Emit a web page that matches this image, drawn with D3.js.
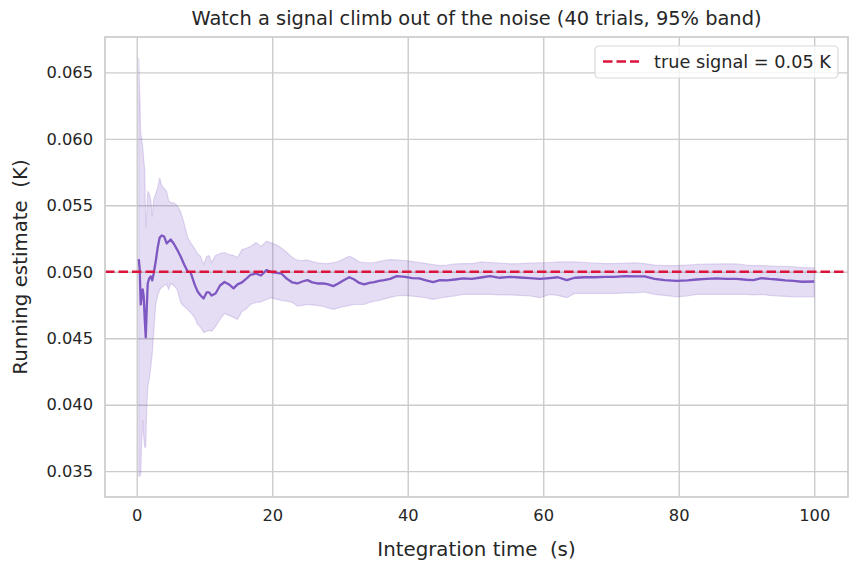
<!DOCTYPE html>
<html>
<head>
<meta charset="utf-8">
<script src="https://cdn.jsdelivr.net/npm/d3@7"></script>
<style>
  body { margin: 0; background: #fff; }
  svg { display: block; font-family: "DejaVu Sans", sans-serif; }
  text { white-space: pre; }
</style>
</head>
<body>
<svg id="chart" width="860" height="572"></svg>
<script>
// integration time (s)
const times = [0.3, 0.44, 0.59, 0.74, 0.88, 1.03, 1.18, 1.33, 1.47, 1.62,
  1.84, 2.06, 2.28, 2.5, 2.8, 3.09, 3.39, 3.68, 4.05, 4.42,
  4.71, 5.01, 5.45, 5.96, 6.48, 7.0, 7.51, 7.95, 8.54, 8.98,
  9.43, 9.87, 10.31, 10.68, 11.05, 11.63, 12.3, 12.96, 13.62, 14.29,
  14.87, 15.54, 16.05, 16.79, 17.6, 18.34, 19.15, 19.88, 20.69, 21.35,
  22.17, 22.97, 23.71, 24.45, 25.18, 25.92, 26.66, 27.54, 28.28, 29.01,
  29.75, 30.49, 31.37, 32.11, 32.84, 33.58, 34.32, 35.05, 35.79, 36.52,
  37.41, 38.37, 39.62, 40.65, 41.68, 42.71, 43.74, 44.77, 45.8, 46.98,
  48.16, 49.48, 50.81, 52.14, 53.61, 55.08, 56.55, 58.03, 59.5, 60.97,
  62.15, 63.48, 64.65, 66.13, 67.6, 69.07, 70.54, 72.16, 73.64, 74.96,
  76.44, 77.91, 79.68, 81.3, 82.62, 84.09, 85.57, 87.04, 88.51, 89.99,
  91.02, 92.2, 93.37, 94.55, 95.73, 96.91, 98.23, 100];

// mean running estimate over trials (K)
const meanEst = [0.05096, 0.05017, 0.04754, 0.04822, 0.04867, 0.04815, 0.04642, 0.04507, 0.04717, 0.04912,
  0.0495, 0.04965, 0.04935, 0.04987, 0.05077, 0.05182, 0.05258, 0.05273, 0.05265, 0.05213,
  0.05228, 0.05243, 0.05213, 0.05167, 0.05115, 0.05055, 0.05002, 0.04995, 0.04905, 0.04852,
  0.04822, 0.04799, 0.04845, 0.04845, 0.04822, 0.04837, 0.04897, 0.04923, 0.04905, 0.04875,
  0.04905, 0.0492, 0.04942, 0.04976, 0.04987, 0.04972, 0.05012, 0.04998, 0.04992, 0.04987,
  0.04947, 0.0492, 0.04912, 0.04927, 0.04937, 0.0492, 0.04912, 0.04912, 0.04905, 0.04892,
  0.04912, 0.04935, 0.04959, 0.04942, 0.04916, 0.04905, 0.04916, 0.04922, 0.04931, 0.04937,
  0.04947, 0.04967, 0.04962, 0.04953, 0.0495, 0.04935, 0.04922, 0.04937, 0.04935, 0.04942,
  0.0495, 0.04947, 0.04957, 0.04967, 0.04955, 0.04962, 0.04957, 0.04953, 0.04947, 0.04953,
  0.04959, 0.04937, 0.04955, 0.04959, 0.04959, 0.04962, 0.04962, 0.04967, 0.04965, 0.04965,
  0.04947, 0.04938, 0.04931, 0.04935, 0.04942, 0.04946, 0.0495, 0.04947, 0.04947, 0.0494,
  0.04937, 0.04952, 0.04946, 0.04942, 0.04935, 0.04932, 0.04925, 0.04927];

// 95% band, lower edge
const bandLo = [0.03463, 0.03463, 0.03478, 0.03741, 0.03883, 0.03756, 0.0368, 0.0368, 0.03966, 0.04131,
  0.04191, 0.04281, 0.04379, 0.04544, 0.04754, 0.04822, 0.04867, 0.04882, 0.04897, 0.04905,
  0.04867, 0.04912, 0.04897, 0.04867, 0.04769, 0.04739, 0.04717, 0.04694, 0.04657, 0.04604,
  0.04582, 0.04544, 0.04552, 0.04559, 0.04552, 0.04589, 0.04642, 0.04687, 0.04672, 0.04657,
  0.04642, 0.04702, 0.04717, 0.04754, 0.04769, 0.04773, 0.04792, 0.04805, 0.04792, 0.04784,
  0.04779, 0.04769, 0.04742, 0.04747, 0.04754, 0.04751, 0.04747, 0.04739, 0.04728, 0.04717,
  0.04728, 0.04737, 0.04747, 0.04754, 0.04754, 0.04754, 0.04769, 0.04779, 0.04784, 0.04796,
  0.04807, 0.04818, 0.04822, 0.04817, 0.04811, 0.04803, 0.04792, 0.04803, 0.04811, 0.04818,
  0.0483, 0.0483, 0.0483, 0.0483, 0.04826, 0.04826, 0.04822, 0.04818, 0.04805, 0.0483,
  0.04822, 0.04805, 0.04837, 0.04837, 0.04837, 0.04837, 0.04837, 0.04841, 0.04842, 0.04847,
  0.0483, 0.04822, 0.04812, 0.04818, 0.0483, 0.0483, 0.0483, 0.0483, 0.0483, 0.0483,
  0.04826, 0.0483, 0.04822, 0.04818, 0.04815, 0.04812, 0.04812, 0.04812];

// 95% band, upper edge
const bandHi = [0.06609, 0.06332, 0.06046, 0.05994, 0.05941, 0.05843, 0.05768, 0.05333, 0.0543, 0.05603,
  0.05588, 0.05543, 0.05415, 0.05543, 0.05588, 0.05633, 0.05708, 0.05648, 0.05626, 0.05603,
  0.05535, 0.0552, 0.0552, 0.05498, 0.05453, 0.05363, 0.05258, 0.0522, 0.05175, 0.05137,
  0.05115, 0.05055, 0.05115, 0.05122, 0.0507, 0.05122, 0.05137, 0.05145, 0.0513, 0.05122,
  0.05107, 0.05167, 0.05175, 0.0519, 0.0522, 0.0519, 0.0523, 0.05216, 0.05201, 0.05179,
  0.05145, 0.05107, 0.05087, 0.05085, 0.05087, 0.05077, 0.05068, 0.05062, 0.05062, 0.0507,
  0.05077, 0.05096, 0.05117, 0.051, 0.05074, 0.0507, 0.05068, 0.0507, 0.05077, 0.05085,
  0.05092, 0.05089, 0.05085, 0.05077, 0.0507, 0.05062, 0.05055, 0.05047, 0.05051, 0.05059,
  0.05062, 0.05062, 0.05074, 0.0507, 0.05066, 0.0506, 0.05062, 0.05066, 0.05068, 0.0507,
  0.05074, 0.05075, 0.05074, 0.0507, 0.05066, 0.05062, 0.05062, 0.05066, 0.05068, 0.05062,
  0.05051, 0.05047, 0.05047, 0.05051, 0.05055, 0.05057, 0.05059, 0.0506, 0.05059, 0.05051,
  0.05047, 0.05047, 0.05044, 0.0504, 0.0504, 0.05038, 0.05032, 0.0503];

const trueSignal = 0.05;
const xTicks = [0, 20, 40, 60, 80, 100];
const yTicks = [0.035, 0.040, 0.045, 0.050, 0.055, 0.060, 0.065];

const purple = "#7e57c2";
const red = "#dc143c";
const gridCol = "#cccccc";
const textCol = "#262626";

let svg = d3.select("#chart");
let pLeft = 105, pRight = 848, pTop = 37, pBottom = 497;

// matplotlib-ish 5% margins
let tExt = d3.extent(times);
let tPad = (tExt[1] - tExt[0]) * 0.05;
let vMin = d3.min(bandLo), vMax = d3.max(bandHi);
let vPad = (vMax - vMin) * 0.05;

let x = d3.scaleLinear()
          .domain([tExt[0] - tPad, tExt[1] + tPad])
          .range([pLeft, pRight]);
let y = d3.scaleLinear()
          .domain([vMin - vPad, vMax + vPad])
          .range([pBottom, pTop]);

let rows = times.map((t, i) => ({t: t, m: meanEst[i], lo: bandLo[i], hi: bandHi[i]}));

// grid
svg.append("g")
   .attr("transform", `translate(0,${pBottom})`)
   .call(d3.axisBottom(x).tickValues(xTicks).tickSize(-(pBottom - pTop)).tickFormat(d3.format("d")).tickPadding(9))
   .call(g => g.select(".domain").remove())
   .call(g => g.selectAll("line").attr("stroke", gridCol).attr("stroke-width", 1.4))
   .call(g => g.selectAll("text").attr("fill", textCol).style("font-size", "16.3px")
                .attr("font-family", "DejaVu Sans").attr("dy", "0.95em"));

svg.append("g")
   .attr("transform", `translate(${pLeft},0)`)
   .call(d3.axisLeft(y).tickValues(yTicks).tickSize(-(pRight - pLeft)).tickFormat(d3.format(".3f")).tickPadding(12))
   .call(g => g.select(".domain").remove())
   .call(g => g.selectAll("line").attr("stroke", gridCol).attr("stroke-width", 1.4))
   .call(g => g.selectAll("text").attr("fill", textCol).style("font-size", "16.3px")
                .attr("font-family", "DejaVu Sans"));

// band
let area = d3.area()
             .x(d => x(d.t))
             .y0(d => y(d.lo))
             .y1(d => y(d.hi));

svg.append("path")
   .datum(rows)
   .attr("d", area)
   .attr("fill", purple)
   .attr("fill-opacity", 0.2)
   .attr("stroke", purple)
   .attr("stroke-opacity", 0.2)
   .attr("stroke-width", 1.2);

// mean line
let line = d3.line()
             .x(d => x(d.t))
             .y(d => y(d.m));

svg.append("path")
   .datum(rows)
   .attr("d", line)
   .attr("fill", "none")
   .attr("stroke", purple)
   .attr("stroke-width", 2.3)
   .attr("stroke-linejoin", "round");

// true signal
svg.append("line")
   .attr("x1", pLeft)
   .attr("x2", pRight)
   .attr("y1", y(trueSignal))
   .attr("y2", y(trueSignal))
   .attr("stroke", red)
   .attr("stroke-width", 2.4)
   .attr("stroke-dasharray", "9.5,4");

// spines
svg.append("rect")
   .attr("x", pLeft)
   .attr("y", pTop)
   .attr("width", pRight - pLeft)
   .attr("height", pBottom - pTop)
   .attr("fill", "none")
   .attr("stroke", gridCol)
   .attr("stroke-width", 1.7);

// legend
let lg = svg.append("g").attr("transform", "translate(595,46)");
lg.append("rect")
  .attr("width", 243)
  .attr("height", 32)
  .attr("rx", 4)
  .attr("fill", "white")
  .attr("fill-opacity", 0.8)
  .attr("stroke", "#d9d9d9")
  .attr("stroke-width", 1.2);
lg.append("line")
  .attr("x1", 8).attr("x2", 44)
  .attr("y1", 15.5).attr("y2", 15.5)
  .attr("stroke", red)
  .attr("stroke-width", 2.4)
  .attr("stroke-dasharray", "9.5,4");
lg.append("text")
  .attr("x", 59)
  .attr("y", 22)
  .attr("fill", textCol)
  .style("font-size", "17.7px")
  .text("true signal = 0.05 K");

// title + labels
svg.append("text")
   .attr("x", (pLeft + pRight) / 2)
   .attr("y", 25)
   .attr("text-anchor", "middle")
   .attr("fill", textCol)
   .style("font-size", "19.4px")
   .text("Watch a signal climb out of the noise (40 trials, 95% band)");

svg.append("text")
   .attr("x", (pLeft + pRight) / 2)
   .attr("y", 556)
   .attr("text-anchor", "middle")
   .attr("fill", textCol)
   .style("font-size", "19.8px")
   .text("Integration time  (s)");

svg.append("text")
   .attr("transform", `translate(27,${(pTop + pBottom) / 2}) rotate(-90)`)
   .attr("text-anchor", "middle")
   .attr("fill", textCol)
   .style("font-size", "19.8px")
   .text("Running estimate  (K)");
</script>
</body>
</html>
